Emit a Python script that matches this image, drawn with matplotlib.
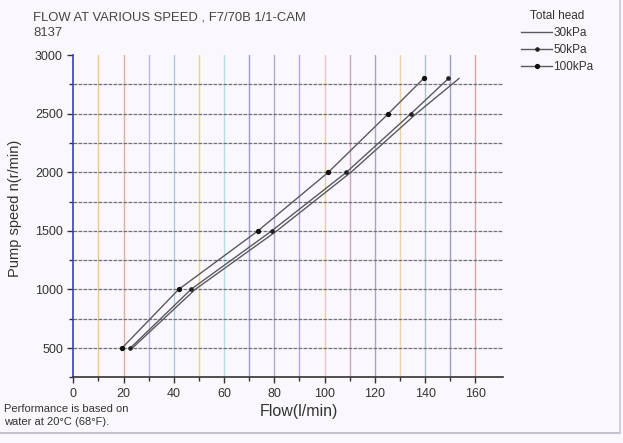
import matplotlib
matplotlib.use("Agg")
import matplotlib.pyplot as plt
from matplotlib.lines import Line2D

plt.rcParams['font.family'] = ['Liberation Sans', 'DejaVu Sans']

speed = [500, 1000, 1500, 2000, 2500, 2800]
flow_30 = [23.5, 48.5, 81.0, 110.5, 136.5, 153.5]
flow_50 = [22.7, 46.8, 79.0, 108.7, 134.4, 149.3]
flow_100 = [19.4, 41.9, 73.5, 101.5, 125.4, 139.4]
x_ticks = [0, 20, 40, 60, 80, 100, 120, 140, 160]
y_ticks = [500, 1000, 1500, 2000, 2500, 3000]
grid_colors = ['#f2c890', '#d9b49a', '#c4b4e2', '#a9cbe3', '#efd466', '#b4dce4',
               '#9a98cc', '#b4a4d6', '#b8a2da', '#e4d48a', '#c8a4c4', '#a4a4cc',
               '#ecd2a4', '#acc4cc', '#9c9cd2', '#d6a8a8']

bg = '#faf8fd'
fig = plt.figure(figsize=(6.23, 4.43), dpi=100)
fig.patch.set_facecolor(bg)
ax = fig.add_axes([0.1177, 0.1483, 0.8074 - 0.1177, 0.8758 - 0.1483])
ax.set_facecolor(bg)
ax.set_xlim(0, 171)
ax.set_ylim(250, 3000)

for i, xv in enumerate(range(10, 170, 10)):
    ax.axvline(xv, color=grid_colors[i % len(grid_colors)], lw=1.0, zorder=1)
for yv in range(500, 3000, 250):
    ax.axhline(yv, color='#707076', lw=0.9, ls=(0, (3, 1)), zorder=1)

lc = '#5a5a5e'
ax.plot(flow_30, speed, color=lc, lw=1.0, zorder=3)
ax.plot(flow_50, speed, color=lc, lw=1.0, marker='o', ms=2.3, mfc='#222', mec='#222', zorder=3)
ax.plot(flow_100, speed, color=lc, lw=1.0, marker='o', ms=2.8, mfc='#111', mec='#111', zorder=3)

for s in ['top', 'right']:
    ax.spines[s].set_visible(False)
ax.spines['left'].set_color('#3a3ad0')
ax.spines['left'].set_linewidth(1.2)
ax.spines['bottom'].set_color('#333')
ax.spines['bottom'].set_linewidth(1.2)

ax.set_xticks(x_ticks)
ax.set_xticks(list(range(10, 170, 20)), minor=True)
ax.set_yticks(y_ticks)
ax.set_yticks(list(range(250, 3000, 500)), minor=True)
ax.tick_params(axis='both', which='major', direction='out', length=4, width=1,
               labelsize=9, labelcolor='#333', color='#333')
ax.tick_params(axis='both', which='minor', direction='out', length=3, width=1, color='#333')

ax.set_xlabel('Flow(l/min)', fontsize=11.5, color='#333')
ax.xaxis.set_label_coords(0.526, -0.083)
ax.set_ylabel('Pump speed n(r/min)', fontsize=10.5, color='#333')
ax.yaxis.set_label_coords(-0.119, 0.525)

fig.text(33 / 623, 1 - 17 / 443, 'FLOW AT VARIOUS SPEED , F7/70B 1/1-CAM', fontsize=9.4,
         color='#444', va='center', ha='left')
fig.text(33 / 623, 1 - 33 / 443, '8137', fontsize=9.4, color='#444', va='center', ha='left')
fig.text(4 / 623, 1 - 415.5 / 443, 'Performance is based on\nwater at 20°C (68°F).', fontsize=8,
         color='#333', va='center', ha='left', linespacing=1.35)

handles = [Line2D([], [], color=lc, lw=1.0),
           Line2D([], [], color=lc, lw=1.0, marker='o', ms=2.3, mfc='#222', mec='#222'),
           Line2D([], [], color=lc, lw=1.0, marker='o', ms=2.8, mfc='#111', mec='#111')]
leg = fig.legend(handles, ['30kPa', '50kPa', '100kPa'], title='Total head',
                 loc='upper left', bbox_to_anchor=(512 / 623, 1 - 1 / 443),
                 frameon=False, fontsize=8.5, title_fontsize=8.5, handlelength=2.6,
                 handletextpad=0.1, labelspacing=0.42, borderpad=0.3)
for t in leg.get_texts():
    t.set_color('#333')
leg.get_title().set_color('#333')

fig.add_artist(Line2D([0, 620 / 623], [1 - 433 / 443] * 2, color='#b8b8c0', lw=1.2,
                      transform=fig.transFigure))
fig.add_artist(Line2D([620 / 623] * 2, [1 - 433 / 443, 1], color='#c8c4e8', lw=1.2,
                      transform=fig.transFigure))

fig.savefig('out.png', dpi=100, facecolor=fig.get_facecolor())
